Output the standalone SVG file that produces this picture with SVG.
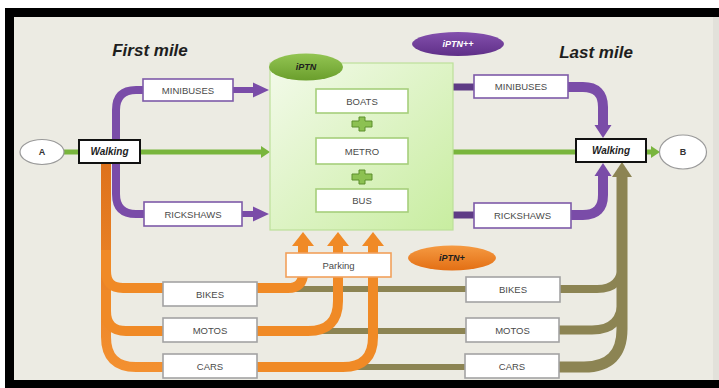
<svg xmlns="http://www.w3.org/2000/svg" width="719" height="388" viewBox="0 0 719 388">
<defs>
<style>
.lbl{font-family:"Liberation Sans",Arial,sans-serif;font-size:9.5px;fill:#4a4a4a;text-anchor:middle;dominant-baseline:central}
.bi{font-family:"Liberation Sans",Arial,sans-serif;font-weight:bold;font-style:italic;text-anchor:middle;dominant-baseline:central}
.title{font-size:17px;fill:#1e1e1e}
.walk{font-size:10px;fill:#1e1e1e}
.tag{font-size:9px}
.box{fill:#ffffff;stroke-width:1.6}
.pur{stroke:#7e5aa8}
.grn{stroke:#a6cf7b}
.gry{stroke:#a3a3a3}
.org{stroke:#f2a05a}
.wbox{fill:#ffffff;stroke:#111111;stroke-width:2}
.ln{fill:none;stroke-linecap:butt;stroke-linejoin:round}
.g{stroke:#79b53d;stroke-width:5}
.p{stroke:#7a4ca8}
.pd{stroke:#5e3b85;stroke-width:7}
.o{stroke:#f08a26;stroke-width:10}
.ol{stroke:#8c8453}
</style>
<linearGradient id="ptnFill" x1="0" y1="0" x2="1" y2="1">
<stop offset="0" stop-color="#f3faea"/>
<stop offset="1" stop-color="#c8eda0"/>
</linearGradient>
<linearGradient id="gEll" x1="0" y1="0" x2="0" y2="1">
<stop offset="0" stop-color="#93c553"/>
<stop offset="1" stop-color="#6a9e2c"/>
</linearGradient>
<linearGradient id="pEll" x1="0" y1="0" x2="0" y2="1">
<stop offset="0" stop-color="#8350ad"/>
<stop offset="1" stop-color="#5f2f88"/>
</linearGradient>
<linearGradient id="oEll" x1="0" y1="0" x2="0" y2="1">
<stop offset="0" stop-color="#f59a42"/>
<stop offset="1" stop-color="#e36f14"/>
</linearGradient>
<linearGradient id="oVert" x1="0" y1="0" x2="0" y2="1">
<stop offset="0" stop-color="#de721c"/>
<stop offset="1" stop-color="#f39030"/>
</linearGradient>
<marker id="mG" markerUnits="userSpaceOnUse" orient="auto" refX="0" refY="0" markerWidth="10" markerHeight="12" overflow="visible"><path d="M0,-6 L9,0 L0,6 z" fill="#79b53d"/></marker>
<marker id="mP" markerUnits="userSpaceOnUse" orient="auto" refX="0" refY="0" markerWidth="16" markerHeight="16" overflow="visible"><path d="M0,-7.5 L16,0 L0,7.5 z" fill="#7a4ca8"/></marker>
<marker id="mP2" markerUnits="userSpaceOnUse" orient="auto" refX="0" refY="0" markerWidth="14" markerHeight="18" overflow="visible"><path d="M0,-8.5 L13,0 L0,8.5 z" fill="#7a4ca8"/></marker>
<marker id="mO" markerUnits="userSpaceOnUse" orient="auto" refX="0" refY="0" markerWidth="14" markerHeight="22" overflow="visible"><path d="M0,-11 L14,0 L0,11 z" fill="#f08a26"/></marker>
<marker id="mOl" markerUnits="userSpaceOnUse" orient="auto" refX="0" refY="0" markerWidth="15" markerHeight="20" overflow="visible"><path d="M0,-10 L15,0 L0,10 z" fill="#8c8453"/></marker>
<path id="plus" d="M-3,-7 H3 V-3 H10 V3 H3 V7 H-3 V3 H-10 V-3 H-3 z" fill="#8cc152" stroke="#5c8f2c" stroke-width="1"/>
</defs>

<rect x="0" y="0" width="719" height="388" fill="#ffffff"/>
<rect x="5" y="8" width="714" height="380" fill="#000000"/>
<rect x="14" y="17" width="705" height="363" fill="#ecebe3"/>
<rect x="713" y="17" width="6" height="363" fill="#e2e1da"/>

<text class="bi title" x="150" y="50">First mile</text>
<text class="bi title" x="596" y="52">Last mile</text>

<g id="connectors">
<!-- olive lines -->
<path class="ln ol" stroke-width="6" d="M270 289 H466"/>
<path class="ln ol" stroke-width="6" d="M300 331 H466"/>
<path class="ln ol" stroke-width="6" d="M330 367 H465"/>
<path class="ln ol" stroke-width="8" d="M560 289 H597 Q622 289 622 264"/>
<path class="ln ol" stroke-width="9" d="M559 330 H592 Q622 330 622 300"/>
<path class="ln ol" stroke-width="11" d="M559 367 H584 Q622 367 622 329 V177" marker-end="url(#mOl)"/>
<!-- orange lines -->
<path class="ln" stroke="url(#oVert)" stroke-width="10" d="M106 163 V337 Q106 367 136 367 H163"/>
<path class="ln o" stroke="#ec8024" d="M106 290 V311 Q106 331 126 331 H163"/>
<path class="ln o" stroke="#e57a20" d="M106 250 V271 Q106 288 123 288 H163"/>
<path class="ln o" d="M257 367 H343 Q373 367 373 337 V246" marker-end="url(#mO)"/>
<path class="ln o" d="M257 331 H308 Q338 331 338 301 V246" marker-end="url(#mO)"/>
<path class="ln o" d="M257 288 H288 Q303 288 303 273 V246" marker-end="url(#mO)"/>
<!-- purple lines -->
<path class="ln p" stroke-width="8" d="M143 90 H136 Q116 90 116 110 V194 Q116 214 136 214 H144"/>
<path class="ln p" stroke-width="6" d="M233 90 H253" marker-end="url(#mP)"/>
<path class="ln p" stroke-width="6" d="M242 214 H253" marker-end="url(#mP)"/>
<path class="ln pd" d="M453 87 H474"/>
<path class="ln pd" d="M453 215 H474"/>
<path class="ln p" stroke-width="10" d="M568 87 H583 Q603 87 603 107 V125" marker-end="url(#mP2)"/>
<path class="ln p" stroke-width="10" d="M571 215 H583 Q603 215 603 195 V176" marker-end="url(#mP2)"/>
<!-- green lines -->
<path class="ln g" d="M64 152 H80"/>
<path class="ln g" d="M140 152 H261" marker-end="url(#mG)"/>
<path class="ln g" d="M453 152 H577"/>
<path class="ln g" d="M646 152 H651" marker-end="url(#mG)"/>
</g>

<g id="ptn">
<rect x="270" y="63" width="183" height="167" fill="url(#ptnFill)" stroke="#bde09a" stroke-width="1.2"/>
</g>
<g id="ptn-label">
<ellipse cx="306" cy="67" rx="37" ry="13.5" fill="url(#gEll)"/>
<text class="bi tag" x="306" y="67" fill="#1e1e1e">iPTN</text>
</g>
<g id="boats"><rect class="box grn" x="316" y="89" width="92" height="24"/><text class="lbl" x="362" y="101">BOATS</text></g>
<use href="#plus" x="362" y="124"/>
<g id="metro"><rect class="box grn" x="316" y="138" width="92" height="26"/><text class="lbl" x="362" y="151">METRO</text></g>
<use href="#plus" x="362" y="177"/>
<g id="bus"><rect class="box grn" x="316" y="189" width="92" height="23"/><text class="lbl" x="362" y="200.5">BUS</text></g>

<g id="ptnpp"><ellipse cx="458" cy="44" rx="46" ry="12" fill="url(#pEll)"/><text class="bi tag" x="458" y="44" fill="#ffffff">iPTN++</text></g>
<g id="ptnp"><ellipse cx="452" cy="258" rx="44" ry="12.5" fill="url(#oEll)"/><text class="bi tag" x="452" y="258" fill="#1e1e1e">iPTN+</text></g>

<g id="node-a"><ellipse cx="42" cy="152" rx="22" ry="12.5" fill="#ffffff" stroke="#9a9a9a" stroke-width="1.2"/><text class="bi tag" x="42" y="152" font-style="normal" fill="#333" style="font-style:normal">A</text></g>
<g id="node-b"><ellipse cx="683" cy="152" rx="23.5" ry="17" fill="#ffffff" stroke="#9a9a9a" stroke-width="1.2"/><text class="bi tag" x="683" y="152" fill="#333" style="font-style:normal">B</text></g>

<g id="walk-l"><rect class="wbox" x="79" y="140" width="61" height="23"/><text class="bi walk" x="109.5" y="151.5">Walking</text></g>
<g id="walk-r"><rect class="wbox" x="576" y="139" width="70" height="23"/><text class="bi walk" x="611" y="150.5">Walking</text></g>

<g id="mini-l"><rect class="box pur" x="143" y="79" width="90" height="22"/><text class="lbl" x="188" y="90">MINIBUSES</text></g>
<g id="rick-l"><rect class="box pur" x="144" y="202" width="98" height="24"/><text class="lbl" x="193" y="214">RICKSHAWS</text></g>
<g id="mini-r"><rect class="box pur" x="474" y="75" width="94" height="23"/><text class="lbl" x="521" y="86.5">MINIBUSES</text></g>
<g id="rick-r"><rect class="box pur" x="474" y="203" width="97" height="25"/><text class="lbl" x="522.5" y="215.5">RICKSHAWS</text></g>

<g id="parking"><rect class="box org" x="286" y="253" width="105" height="24"/><text class="lbl" x="338.5" y="265">Parking</text></g>

<g id="bikes-l"><rect class="box gry" x="163" y="282" width="94" height="24"/><text class="lbl" x="210" y="294">BIKES</text></g>
<g id="motos-l"><rect class="box gry" x="163" y="318" width="94" height="24"/><text class="lbl" x="210" y="330">MOTOS</text></g>
<g id="cars-l"><rect class="box gry" x="163" y="354" width="94" height="24"/><text class="lbl" x="210" y="366">CARS</text></g>
<g id="bikes-r"><rect class="box gry" x="466" y="277" width="94" height="25"/><text class="lbl" x="513" y="289.5">BIKES</text></g>
<g id="motos-r"><rect class="box gry" x="466" y="318" width="93" height="24"/><text class="lbl" x="512.5" y="330">MOTOS</text></g>
<g id="cars-r"><rect class="box gry" x="465" y="354" width="94" height="24"/><text class="lbl" x="512" y="366">CARS</text></g>
</svg>
